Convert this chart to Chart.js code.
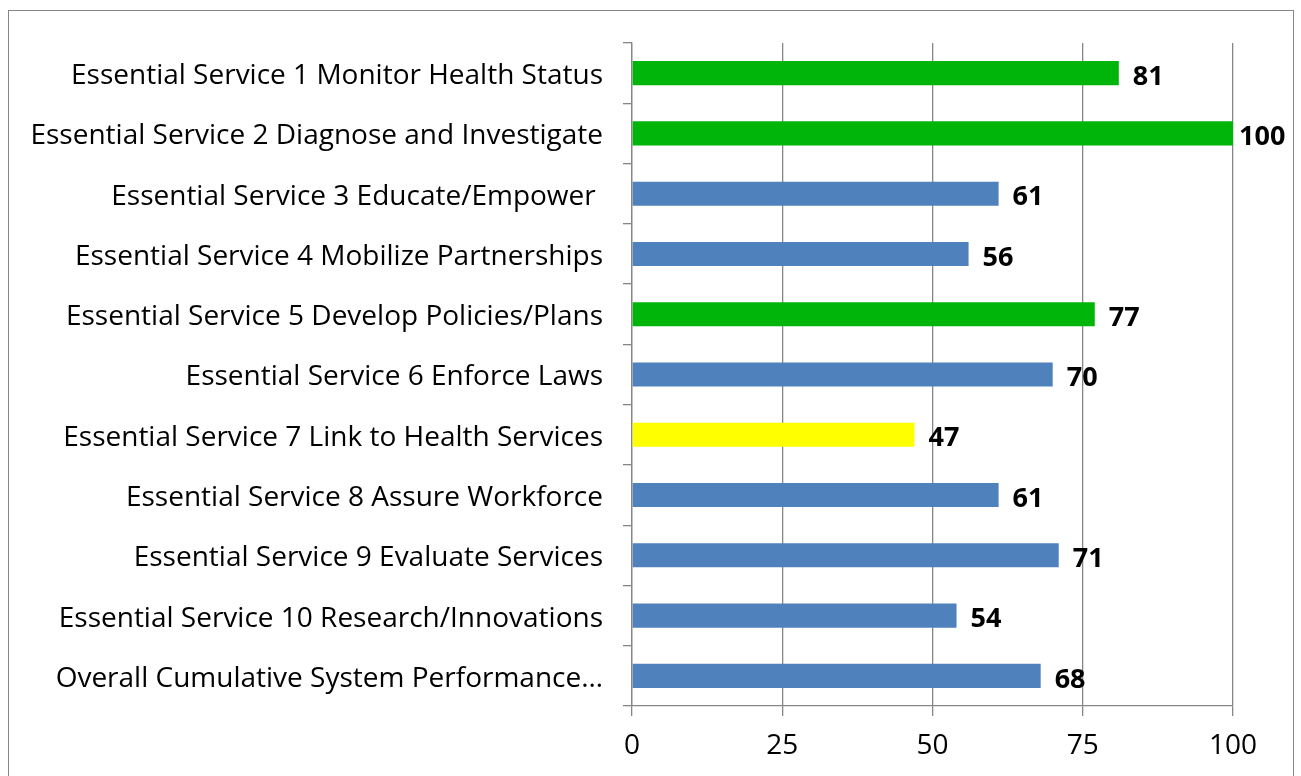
<!DOCTYPE html>
<html>
<head>
<meta charset="utf-8">
<script src="https://cdn.jsdelivr.net/npm/chart.js@4.4.0/dist/chart.umd.min.js"></script>
<style>
  html, body { margin: 0; padding: 0; background: #fff; overflow: hidden; }
  #frame { position: absolute; left: 8px; top: 10px; width: 1286px; height: 800px; border: 1px solid #868686; box-sizing: border-box; }
  #wrap { position: absolute; left: 0; top: 0; width: 1301px; height: 776px; }
</style>
</head>
<body>
<div id="frame"></div>
<div id="wrap"><canvas id="chart"></canvas></div>
<script>
var labels = [
  'Essential Service 1 Monitor Health Status',
  'Essential Service 2 Diagnose and Investigate',
  'Essential Service 3 Educate/Empower ',
  'Essential Service 4 Mobilize Partnerships',
  'Essential Service 5 Develop Policies/Plans',
  'Essential Service 6 Enforce Laws',
  'Essential Service 7 Link to Health Services',
  'Essential Service 8 Assure Workforce',
  'Essential Service 9 Evaluate Services',
  'Essential Service 10 Research/Innovations',
  'Overall Cumulative System Performance\u2026'
];
var scores = [81, 100, 61, 56, 77, 70, 47, 61, 71, 54, 68];
var barColors = ['#00B50A', '#00B50A', '#4F81BD', '#4F81BD', '#00B50A', '#4F81BD', '#FFFF00', '#4F81BD', '#4F81BD', '#4F81BD', '#4F81BD'];
var xTicks = [0, 25, 50, 75, 100];

var FONT = '"Open Sans", sans-serif';

// draws the bold value after each bar
var valueLabels = {
  id: 'valueLabels',
  afterDatasetsDraw: function(chart) {
    var ctx = chart.ctx;
    var meta = chart.getDatasetMeta(0);
    ctx.save();
    ctx.font = 'bold 27px ' + FONT;
    ctx.fillStyle = '#000';
    ctx.textBaseline = 'middle';
    ctx.textAlign = 'left';
    for (var i = 0; i < meta.data.length; i++) {
      var bar = meta.data[i];
      var x = Math.min(bar.x + 14, chart.chartArea.right + 6);
      ctx.fillText(String(scores[i]), x, bar.y + 4);
    }
    ctx.restore();
  }
};

new Chart(document.getElementById('chart'), {
  type: 'bar',
  data: {
    labels: labels,
    datasets: [{
      data: scores,
      backgroundColor: barColors,
      borderWidth: 0,
      barPercentage: 0.4,
      categoryPercentage: 1.0
    }]
  },
  options: {
    indexAxis: 'y',
    responsive: true,
    maintainAspectRatio: false,
    animation: false,
    layout: { padding: { top: 43, right: 68, left: 0, bottom: 0 } },
    plugins: { legend: { display: false }, tooltip: { enabled: false } },
    scales: {
      x: {
        min: 0,
        max: 100,
        afterBuildTicks: function(axis) {
          axis.ticks = xTicks.map(function(v) { return { value: v }; });
        },
        afterFit: function(axis) { axis.height = 70; },
        grid: { color: '#868686', lineWidth: 1.3, tickLength: 10, drawOnChartArea: true },
        border: { color: '#868686', width: 1.3 },
        ticks: { color: '#000', font: { family: FONT, size: 28 }, padding: 13 }
      },
      y: {
        afterFit: function(axis) { axis.width = 632; },
        grid: { display: true, drawOnChartArea: false, offset: true, tickLength: 9, color: '#868686', lineWidth: 1.3 },
        border: { color: '#868686', width: 1.3 },
        ticks: { color: '#000', font: { family: FONT, size: 28 }, padding: 20, labelOffset: 3, autoSkip: false }
      }
    }
  },
  plugins: [valueLabels]
});
</script>
</body>
</html>
